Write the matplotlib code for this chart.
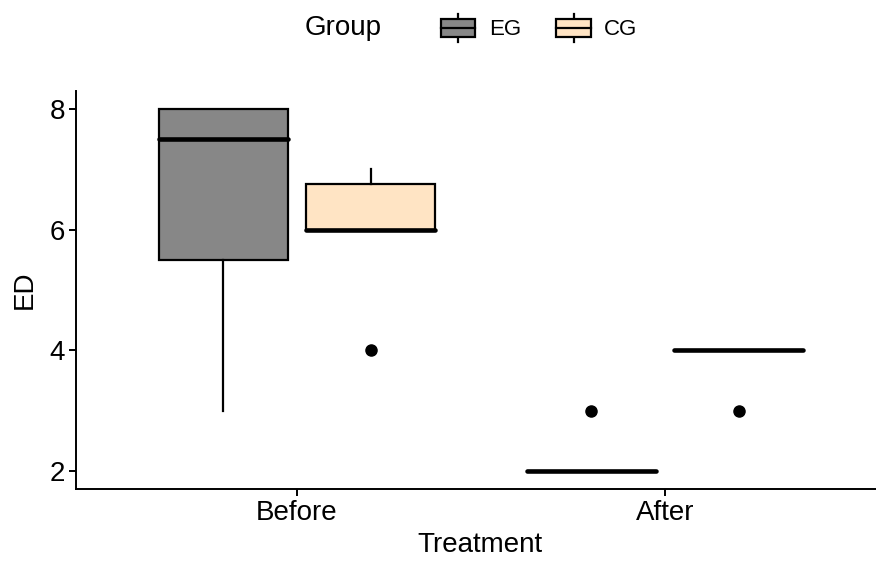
import numpy as np
import matplotlib.pyplot as plt
from matplotlib.patches import Rectangle
from matplotlib.lines import Line2D
from matplotlib.legend_handler import HandlerBase

plt.rcParams['font.family'] = ['Liberation Sans', 'DejaVu Sans']

# ED by treatment phase and group, five-number summaries + outliers
treatments = ['Before', 'After']
groups = ['EG', 'CG']
colors = {'EG': '#878787', 'CG': '#FFE4C4'}

whislo = {'EG': [3, 2], 'CG': [6, 4]}
q1 = {'EG': [5.5, 2], 'CG': [6, 4]}
med = {'EG': [7.5, 2], 'CG': [6, 4]}
q3 = {'EG': [8, 2], 'CG': [6.75, 4]}
whishi = {'EG': [8, 2], 'CG': [7, 4]}
fliers = {'EG': [[], [3]], 'CG': [[4], [3]]}

offsets = {'EG': -0.2, 'CG': 0.2}
box_w = 0.35


class BoxHandler(HandlerBase):
    def create_artists(self, legend, orig_handle, xdescent, ydescent,
                       width, height, fontsize, trans):
        x0, y0 = -xdescent, -ydescent
        bw, bh = width, height * 0.63
        bx = x0
        by = y0 + (height - bh) / 2
        cx = x0 + width / 2
        arts = [
            Line2D([cx, cx], [y0, y0 + height], color='black', lw=1.6),
            Rectangle((bx, by), bw, bh, facecolor=orig_handle.get_facecolor(),
                      edgecolor='black', lw=1.6),
            Line2D([bx, bx + bw], [y0 + height / 2] * 2, color='black', lw=1.6),
        ]
        for a in arts:
            a.set_transform(trans)
        return arts


fig = plt.figure(figsize=(8.76, 5.63), dpi=100)
ax = fig.add_axes([76 / 876, 74 / 563, 810 / 876, 398 / 563])

for g in groups:
    stats = []
    for i in range(len(treatments)):
        stats.append(dict(whislo=whislo[g][i], q1=q1[g][i], med=med[g][i],
                          q3=q3[g][i], whishi=whishi[g][i], fliers=fliers[g][i]))
    pos = np.arange(1, len(treatments) + 1) + offsets[g]
    ax.bxp(stats, positions=pos, widths=box_w, patch_artist=True, showcaps=False,
           boxprops=dict(facecolor=colors[g], edgecolor='black', lw=1.6),
           whiskerprops=dict(color='black', lw=1.6),
           medianprops=dict(color='black', lw=3.3, solid_capstyle='round'),
           flierprops=dict(marker='o', markerfacecolor='black',
                           markeredgecolor='black', markersize=8),
           manage_ticks=False, zorder=2)

ax.set_xlim(0.4, 2.6)
ax.set_ylim(1.7, 8.3)
ax.set_xticks([1, 2])
ax.set_xticklabels(treatments)
ax.set_yticks([2, 4, 6, 8])
for s in ['top', 'right']:
    ax.spines[s].set_visible(False)
for s in ['left', 'bottom']:
    ax.spines[s].set_linewidth(1.4)
ax.tick_params(axis='both', labelsize=20, width=1.4, length=5, colors='black', pad=3)
ax.set_xlabel('Treatment', fontsize=20)
ax.set_ylabel('ED', fontsize=20)
# axis titles placed by hand (the plot runs past the right edge)
ax.xaxis.set_label_coords((480 - 76) / 810, -(545 - 489) / 398)
ax.xaxis.label.set_va('center')
ax.yaxis.set_label_coords(-(76 - 25) / 810, 0.5)
ax.yaxis.label.set_va('center')

handles = [Rectangle((0, 0), 1, 1, facecolor=colors[g]) for g in groups]
fig.text(343 / 876, 1 - 28 / 563, 'Group', fontsize=20, ha='center', va='center')
fig.legend(handles, groups, loc='center left', bbox_to_anchor=(441 / 876, 1 - 28 / 563),
           ncol=2, frameon=False, fontsize=16, handlelength=1.55, handleheight=1.6,
           handletextpad=0.6, columnspacing=1.6, borderaxespad=0, borderpad=0,
           handler_map={Rectangle: BoxHandler()})

fig.savefig('out.png', dpi=100)
